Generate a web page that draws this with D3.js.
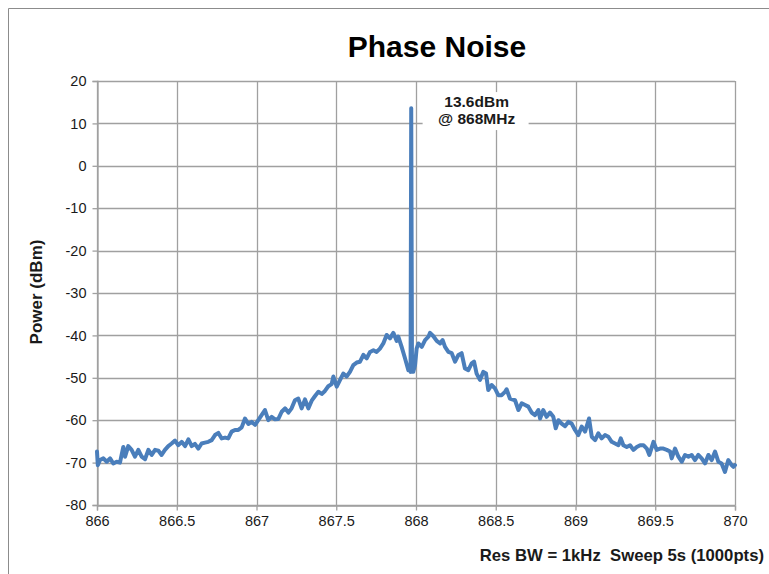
<!DOCTYPE html>
<html>
<head>
<meta charset="utf-8">
<script src="https://cdn.jsdelivr.net/npm/d3@7/dist/d3.min.js"></script>
<style>
  html, body { margin: 0; padding: 0; background: #fff; }
  svg { display: block; }
  text { font-family: "Liberation Sans", Arial, sans-serif; white-space: pre; }
</style>
</head>
<body>
<svg id="chart" width="769" height="574"></svg>
<script>
// ---- data ----
const title = "Phase Noise";
const yLabel = "Power (dBm)";
const note = "Res BW = 1kHz  Sweep 5s (1000pts)";
const peakLabel = ["13.6dBm", "@ 868MHz"];
const xTicks = [866, 866.5, 867, 867.5, 868, 868.5, 869, 869.5, 870];
const yTicks = [20, 10, 0, -10, -20, -30, -40, -50, -60, -70, -80];

const freqMHz = [
  866.000, 866.005, 866.019, 866.040, 866.061, 866.082, 866.102, 866.123, 866.144, 866.165,
  866.176, 866.196, 866.217, 866.238, 866.259, 866.280, 866.301, 866.322, 866.343, 866.364,
  866.385, 866.405, 866.426, 866.447, 866.468, 866.489, 866.510, 866.531, 866.552, 866.573,
  866.594, 866.614, 866.635, 866.656, 866.677, 866.698, 866.719, 866.740, 866.761, 866.782,
  866.803, 866.823, 866.844, 866.865, 866.886, 866.907, 866.928, 866.949, 866.970, 866.991,
  867.011, 867.032, 867.053, 867.074, 867.095, 867.116, 867.137, 867.158, 867.179, 867.200,
  867.220, 867.241, 867.262, 867.283, 867.304, 867.325, 867.346, 867.367, 867.388, 867.409,
  867.429, 867.450, 867.471, 867.482, 867.503, 867.524, 867.544, 867.565, 867.586, 867.607,
  867.628, 867.649, 867.670, 867.691, 867.712, 867.733, 867.753, 867.774, 867.795, 867.816,
  867.837, 867.858, 867.879, 867.889, 867.910, 867.931, 867.952, 867.960, 867.966, 867.970,
  867.975, 867.983, 867.994, 868.004, 868.015, 868.036, 868.057, 868.078, 868.088, 868.109,
  868.130, 868.151, 868.167, 868.182, 868.203, 868.224, 868.245, 868.266, 868.286, 868.307,
  868.328, 868.349, 868.364, 868.380, 868.401, 868.422, 868.439, 868.453, 868.474, 868.495,
  868.516, 868.537, 868.558, 868.568, 868.589, 868.621, 868.642, 868.663, 868.684, 868.704,
  868.725, 868.746, 868.767, 868.778, 868.798, 868.819, 868.840, 868.861, 868.876, 868.893,
  868.913, 868.934, 868.955, 868.976, 868.997, 869.018, 869.039, 869.060, 869.085, 869.102,
  869.123, 869.143, 869.164, 869.185, 869.206, 869.227, 869.248, 869.269, 869.284, 869.300,
  869.321, 869.342, 869.363, 869.384, 869.405, 869.426, 869.447, 869.463, 869.489, 869.509,
  869.530, 869.551, 869.572, 869.593, 869.603, 869.624, 869.645, 869.666, 869.687, 869.708,
  869.728, 869.749, 869.770, 869.791, 869.812, 869.833, 869.854, 869.875, 869.896, 869.916,
  869.937, 869.958, 869.979, 869.990, 870.000
];
const powerDBm = [
  -67.4, -70.6, -69.4, -69.0, -69.8, -69.0, -70.2, -69.8, -70.0, -66.3,
  -68.6, -66.1, -67.0, -68.6, -67.0, -68.6, -69.2, -67.0, -68.2, -67.0,
  -67.2, -68.2, -67.0, -66.1, -65.5, -64.8, -65.9, -65.1, -66.1, -64.5,
  -66.1, -65.6, -66.7, -65.5, -65.3, -65.1, -64.7, -63.5, -63.0, -64.3,
  -64.1, -64.3, -62.7, -62.3, -62.3, -61.7, -59.6, -60.9, -60.4, -61.1,
  -60.0, -58.8, -57.6, -60.0, -59.2, -59.8, -59.7, -58.0, -57.2, -58.2,
  -57.2, -55.3, -54.9, -57.2, -55.1, -57.2, -55.4, -54.3, -53.3, -53.8,
  -53.1, -52.0, -51.5, -49.7, -52.1, -50.5, -49.0, -49.7, -48.6, -47.0,
  -46.4, -46.2, -44.6, -45.4, -43.9, -43.5, -43.9, -43.1, -41.9, -39.9,
  -40.7, -39.4, -41.3, -40.3, -42.7, -45.4, -48.2, -47.4, -48.6, 13.6,
  -48.6, -48.6, -47.0, -43.1, -41.9, -42.7, -41.1, -40.3, -39.4, -40.2,
  -41.3, -41.9, -41.1, -42.7, -43.9, -44.2, -46.2, -44.6, -44.2, -47.8,
  -48.2, -46.6, -46.2, -49.0, -50.5, -48.6, -49.0, -52.9, -51.7, -52.5,
  -54.1, -54.1, -53.3, -52.7, -54.9, -55.3, -57.6, -56.0, -56.4, -56.8,
  -58.2, -58.8, -57.6, -59.6, -57.6, -59.2, -58.2, -59.2, -61.9, -60.0,
  -60.8, -61.4, -60.4, -60.8, -62.3, -63.5, -61.5, -62.7, -59.6, -63.9,
  -64.7, -63.1, -64.3, -63.5, -63.9, -65.1, -65.5, -65.9, -64.3, -65.9,
  -66.3, -65.9, -67.0, -66.3, -65.9, -65.9, -66.7, -68.2, -65.1, -67.0,
  -66.7, -66.7, -67.0, -67.4, -69.0, -66.7, -68.6, -69.8, -68.2, -68.6,
  -68.2, -69.4, -68.2, -69.0, -70.2, -68.2, -69.4, -67.4, -69.8, -70.2,
  -72.2, -69.4, -70.6, -71.0, -70.6
];

// ---- layout ----
const svg = d3.select("#chart");
const L = 97, R = 735, T = 81, B = 505;
const x = d3.scaleLinear().domain([866, 870]).range([L, R]);
const y = d3.scaleLinear().domain([-80, 20]).range([B, T]);
const gridColor = "#a0a0a0";
const textColor = "#1a1a1a";

// outer frame (top and left edges visible)
svg.append("path")
  .attr("d", `M8.5,574 V8.5 H769`)
  .attr("fill", "none").attr("stroke", "#8c8c8c").attr("stroke-width", 1);

// title
svg.append("text")
  .attr("x", 437).attr("y", 57)
  .attr("text-anchor", "middle")
  .attr("font-size", 30).attr("font-weight", "bold")
  .attr("fill", "#000")
  .text(title);

// grid
const grid = svg.append("g");
grid.selectAll("line.h").data(yTicks).join("line")
  .attr("x1", L).attr("x2", R)
  .attr("y1", d => Math.round(y(d)) + 0.5).attr("y2", d => Math.round(y(d)) + 0.5)
  .attr("stroke", gridColor).attr("stroke-width", 1.3);
grid.selectAll("line.v").data(xTicks).join("line")
  .attr("y1", T).attr("y2", B)
  .attr("x1", d => Math.round(x(d)) + 0.5).attr("x2", d => Math.round(x(d)) + 0.5)
  .attr("stroke", gridColor).attr("stroke-width", 1.3);

// axes
const yAxis = svg.append("g")
  .attr("transform", `translate(${L + 0.5},0)`)
  .call(d3.axisLeft(y).tickValues(yTicks).tickSize(5).tickPadding(6).tickFormat(d => String(d)));
const xAxis = svg.append("g")
  .attr("transform", `translate(0,${B + 0.5})`)
  .call(d3.axisBottom(x).tickValues(xTicks).tickSize(5).tickPadding(5).tickFormat(d => String(d)));
[yAxis, xAxis].forEach(g => {
  g.select(".domain").attr("stroke", gridColor).attr("stroke-width", 1.3);
  g.selectAll(".tick line").attr("stroke", gridColor).attr("stroke-width", 1.3);
  g.selectAll(".tick text").attr("fill", textColor)
    .attr("font-size", 14.5).attr("font-family", "'Liberation Sans', Arial, sans-serif");
});

// y axis title
svg.append("text")
  .attr("transform", "translate(42,292) rotate(-90)")
  .attr("text-anchor", "middle")
  .attr("font-size", 17).attr("font-weight", "bold").attr("fill", textColor)
  .text(yLabel);

// trace
const pts = freqMHz.map((f, i) => [f, powerDBm[i]]);
svg.append("path")
  .datum(pts)
  .attr("fill", "none")
  .attr("stroke", "#4a7ebb")
  .attr("stroke-width", 4)
  .attr("stroke-linejoin", "round")
  .attr("stroke-linecap", "round")
  .attr("d", d3.line().x(d => x(d[0])).y(d => y(d[1])));

// peak annotation box
const ann = svg.append("g").attr("transform", `translate(${x(868.38)},${y(12.2)})`);
ann.append("rect").attr("x", -54).attr("y", -22).attr("width", 106).attr("height", 38).attr("fill", "#fff");
ann.selectAll("text").data(peakLabel).join("text")
  .attr("x", 0).attr("y", (d, i) => -7 + i * 17)
  .attr("text-anchor", "middle")
  .attr("font-size", 15.5).attr("font-weight", "bold").attr("fill", textColor)
  .text(d => d);

// bottom note
svg.append("text")
  .attr("x", 764).attr("y", 561)
  .attr("text-anchor", "end")
  .attr("font-size", 16.7).attr("font-weight", "bold").attr("fill", textColor)
  .text(note);
</script>
</body>
</html>
